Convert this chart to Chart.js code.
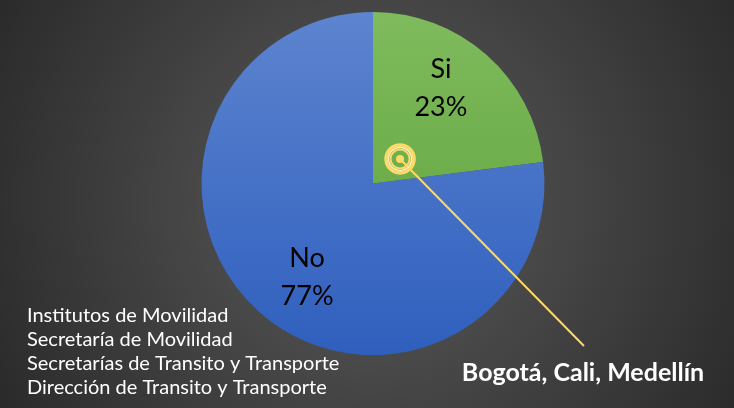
<!DOCTYPE html>
<html>
<head>
<meta charset="utf-8">
<script src="https://cdn.jsdelivr.net/npm/chart.js@4/dist/chart.umd.min.js"></script>
<style>
  html, body { margin: 0; padding: 0; background: #333; }
  #wrap { width: 734px; height: 408px; position: relative; }
</style>
</head>
<body>
<div id="wrap"><canvas id="myChart" width="734" height="408"></canvas></div>
<script>
// Données
var categories = ['Si', 'No'];
var valores = [23, 77];
var porcentajes = ['23%', '77%'];
var coloresArriba = ['#7fbb5d', '#5d84cf'];
var coloresAbajo = ['#5c9f37', '#2f5fbe'];
var entidades = [
    'Institutos de Movilidad',
    'Secretaría de Movilidad',
    'Secretarías de Transito y Transporte',
    'Dirección de Transito y Transporte'
];
var ciudades = 'Bogotá, Cali, Medellín';

var fuente = 'Lato, "Open Sans", sans-serif';

// Fond dégradé radial
var fondPlugin = {
    id: 'fond',
    beforeDraw: function(chart) {
        var c = chart.ctx;
        var g = c.createRadialGradient(372, 200, 0, 372, 200, 460);
        g.addColorStop(0, '#5c5c5c');
        g.addColorStop(1, '#262626');
        c.save();
        c.fillStyle = g;
        c.fillRect(0, 0, chart.width, chart.height);
        c.restore();
    }
};

// Étiquettes, marqueur et textes
var textesPlugin = {
    id: 'textes',
    afterDatasetsDraw: function(chart) {
        var c = chart.ctx;
        var arcs = chart.getDatasetMeta(0).data;
        c.save();
        c.fillStyle = '#000';
        c.textAlign = 'center';
        c.textBaseline = 'middle';
        c.font = '27px ' + fuente;
        // [fraction d'angle, fraction de rayon]
        var pos = [[0.43, 0.68], [0.477, 0.67]];
        arcs.forEach(function(a, i) {
            var ang = a.startAngle + pos[i][0] * (a.endAngle - a.startAngle);
            var r = a.outerRadius * pos[i][1];
            var x = a.x + Math.cos(ang) * r;
            var y = a.y + Math.sin(ang) * r;
            c.fillText(categories[i], x, y - 19);
            c.fillText(porcentajes[i], x, y + 19);
        });

        // marqueur dans la part "Si"
        var s = arcs[0];
        var angM = s.startAngle + 0.577 * (s.endAngle - s.startAngle);
        var mx = s.x + Math.cos(angM) * s.outerRadius * 0.213;
        var my = s.y + Math.sin(angM) * s.outerRadius * 0.213;
        c.strokeStyle = '#ffd966';
        c.lineWidth = 2;
        c.beginPath();
        c.moveTo(mx, my);
        c.lineTo(584, 346);
        c.stroke();
        c.lineWidth = 3.5;
        c.beginPath();
        c.arc(mx, my, 14, 0, Math.PI * 2);
        c.stroke();
        c.strokeStyle = '#fff2c8';
        c.lineWidth = 1.5;
        c.beginPath();
        c.arc(mx, my, 11.5, 0, Math.PI * 2);
        c.stroke();
        c.strokeStyle = '#ffd966';
        c.lineWidth = 2;
        c.beginPath();
        c.arc(mx, my, 9.5, 0, Math.PI * 2);
        c.stroke();
        c.fillStyle = '#ffd966';
        c.beginPath();
        c.arc(mx, my, 4, 0, Math.PI * 2);
        c.fill();

        // textes blancs
        c.fillStyle = '#ffffff';
        c.textAlign = 'left';
        c.font = '20px ' + fuente;
        entidades.forEach(function(t, i) {
            c.fillText(t, 27, 316 + i * 24);
        });
        c.textAlign = 'center';
        c.font = 'bold 25px ' + fuente;
        c.fillText(ciudades, 583, 373);
        c.restore();
    }
};

var ctx = document.getElementById('myChart').getContext('2d');
var myChart = new Chart(ctx, {
    type: 'pie',
    data: {
        labels: categories,
        datasets: [{
            data: valores,
            backgroundColor: function(context) {
                var ca = context.chart.chartArea;
                if (!ca) return coloresArriba[context.dataIndex];
                var g = context.chart.ctx.createLinearGradient(0, ca.top, 0, ca.bottom);
                g.addColorStop(0, coloresArriba[context.dataIndex]);
                g.addColorStop(1, coloresAbajo[context.dataIndex]);
                return g;
            },
            borderWidth: 0
        }]
    },
    options: {
        responsive: false,
        animation: false,
        layout: { padding: { top: 12, bottom: 53, left: 12, right: 0 } },
        plugins: {
            legend: { display: false },
            tooltip: { enabled: false }
        }
    },
    plugins: [fondPlugin, textesPlugin]
});
</script>
</body>
</html>
